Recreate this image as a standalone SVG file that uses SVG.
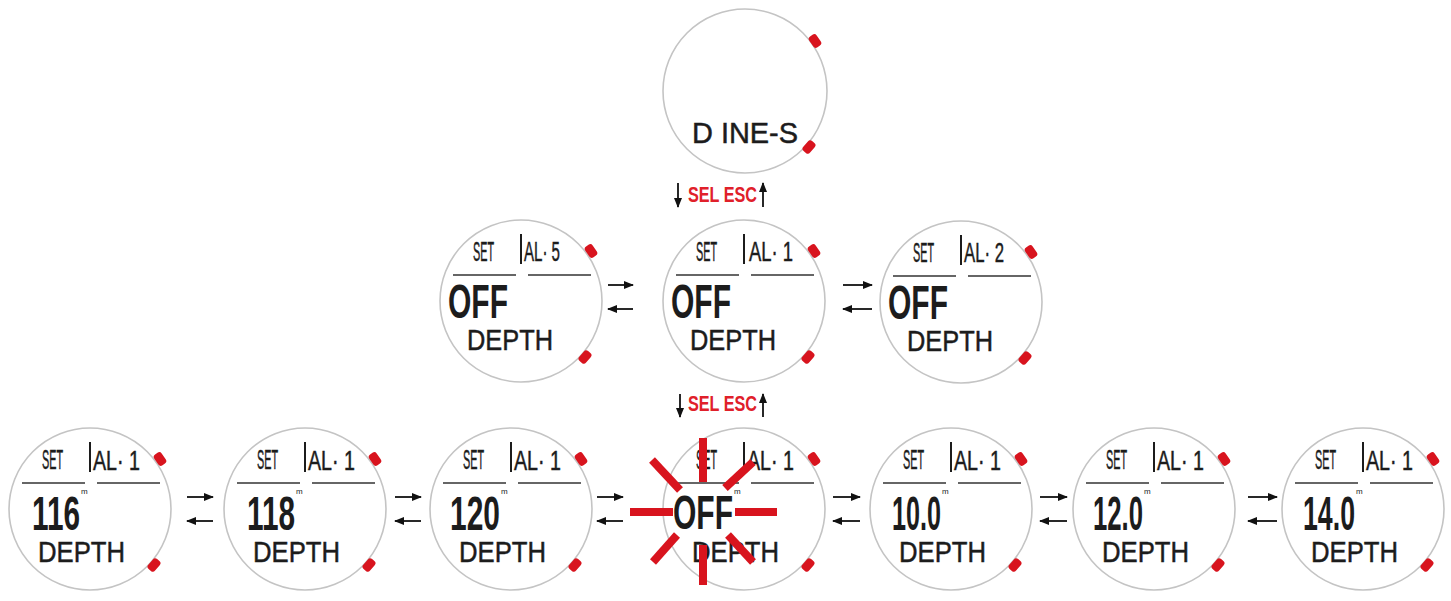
<svg xmlns="http://www.w3.org/2000/svg" width="1451" height="601" viewBox="0 0 1451 601">
<style>
.face{fill:#fff;stroke:#c4c4c4;stroke-width:1.6}
.btn{fill:#d8141e}
.lcd{font-family:"Liberation Sans",Arial,sans-serif;fill:#1c1c1c;stroke:#1c1c1c;stroke-width:0.5}
.s{font-size:28px}
.al{font-size:28px}
.num{font-size:49px;font-weight:bold;stroke-width:0}
.m{font-size:8px;stroke-width:0}
.dep{font-size:30px}
.sep{stroke:#333;stroke-width:1.6}
.bar{fill:#1c1c1c}
.ray{stroke:#d8141e;stroke-width:8;stroke-linecap:butt}
.arr{stroke:#111;stroke-width:1.8;fill:none;marker-end:url(#ah)}
.sel{font-family:"Liberation Sans",Arial,sans-serif;font-weight:bold;font-size:22px;fill:#e0202a}
</style>
<defs>
<marker id="ah" viewBox="0 0 10 8" refX="9" refY="4" markerWidth="11" markerHeight="8" markerUnits="userSpaceOnUse" orient="auto">
<path d="M0,0 L10,4 L0,8 z" fill="#111"/>
</marker>
<g id="btns">
<rect class="btn" x="-4.5" y="-6.5" width="9" height="13" rx="3" transform="translate(70,-50) rotate(-35)"/>
<rect class="btn" x="-4.5" y="-6.5" width="9" height="13" rx="3" transform="translate(64,56) rotate(41)"/>
</g>
<g id="hdr">
<line class="sep" x1="-68" y1="-26" x2="-5" y2="-26"/>
<line class="sep" x1="7" y1="-26" x2="70" y2="-26"/>
<rect class="bar" x="-1" y="-67" width="2" height="30"/>
<text class="lcd s" x="-48" y="-40" textLength="21" lengthAdjust="spacingAndGlyphs">SET</text>
</g>
</defs>

<g id="dive-s" transform="translate(745,91)">
<circle class="face" r="82"/>
<use href="#btns"/>
<text class="lcd dep" x="-53" y="52" textLength="106" lengthAdjust="spacingAndGlyphs">D INE-S</text>
</g>

<g id="al5" transform="translate(521,301)">
<circle class="face" r="81"/>
<use href="#btns"/>
<use href="#hdr"/>
<text class="lcd al" x="3" y="-40" textLength="36" lengthAdjust="spacingAndGlyphs">AL· 5</text>
<text class="lcd num" x="-73" y="17" textLength="60" lengthAdjust="spacingAndGlyphs">OFF</text>
<text class="lcd dep" x="-54" y="49" textLength="86" lengthAdjust="spacingAndGlyphs">DEPTH</text>
</g>

<g id="al1" transform="translate(744,301)">
<circle class="face" r="81"/>
<use href="#btns"/>
<use href="#hdr"/>
<text class="lcd al" x="5" y="-40" textLength="44" lengthAdjust="spacingAndGlyphs">AL· 1</text>
<text class="lcd num" x="-73" y="17" textLength="60" lengthAdjust="spacingAndGlyphs">OFF</text>
<text class="lcd dep" x="-54" y="49" textLength="86" lengthAdjust="spacingAndGlyphs">DEPTH</text>
</g>

<g id="al2" transform="translate(961,302)">
<circle class="face" r="81"/>
<use href="#btns"/>
<use href="#hdr"/>
<text class="lcd al" x="3" y="-40" textLength="40" lengthAdjust="spacingAndGlyphs">AL· 2</text>
<text class="lcd num" x="-73" y="17" textLength="60" lengthAdjust="spacingAndGlyphs">OFF</text>
<text class="lcd dep" x="-54" y="49" textLength="86" lengthAdjust="spacingAndGlyphs">DEPTH</text>
</g>

<g id="d116" transform="translate(90,509)">
<circle class="face" r="81"/>
<use href="#btns"/>
<use href="#hdr"/>
<text class="lcd al" x="3" y="-39" textLength="47" lengthAdjust="spacingAndGlyphs">AL· 1</text>
<text class="lcd num" x="-58" y="21" textLength="48" lengthAdjust="spacingAndGlyphs">116</text>
<text class="lcd m" x="-9" y="-15">m</text>
<text class="lcd dep" x="-52" y="53" textLength="87" lengthAdjust="spacingAndGlyphs">DEPTH</text>
</g>

<g id="d118" transform="translate(305,509)">
<circle class="face" r="81"/>
<use href="#btns"/>
<use href="#hdr"/>
<text class="lcd al" x="3" y="-39" textLength="47" lengthAdjust="spacingAndGlyphs">AL· 1</text>
<text class="lcd num" x="-58" y="21" textLength="48" lengthAdjust="spacingAndGlyphs">118</text>
<text class="lcd m" x="-9" y="-15">m</text>
<text class="lcd dep" x="-52" y="53" textLength="87" lengthAdjust="spacingAndGlyphs">DEPTH</text>
</g>

<g id="d120" transform="translate(511,509)">
<circle class="face" r="81"/>
<use href="#btns"/>
<use href="#hdr"/>
<text class="lcd al" x="3" y="-39" textLength="47" lengthAdjust="spacingAndGlyphs">AL· 1</text>
<text class="lcd num" x="-61" y="21" textLength="50" lengthAdjust="spacingAndGlyphs">120</text>
<text class="lcd m" x="-10" y="-15">m</text>
<text class="lcd dep" x="-52" y="53" textLength="87" lengthAdjust="spacingAndGlyphs">DEPTH</text>
</g>

<g id="doff" transform="translate(744,509)">
<circle class="face" r="81"/>
<use href="#btns"/>
<use href="#hdr"/>
<text class="lcd al" x="3" y="-39" textLength="47" lengthAdjust="spacingAndGlyphs">AL· 1</text>
<text class="lcd num" x="-71" y="20" textLength="60" lengthAdjust="spacingAndGlyphs">OFF</text>
<text class="lcd m" x="-10" y="-15">m</text>
<text class="lcd dep" x="-52" y="53" textLength="87" lengthAdjust="spacingAndGlyphs">DEPTH</text>
</g>

<g id="d100" transform="translate(951,509)">
<circle class="face" r="81"/>
<use href="#btns"/>
<use href="#hdr"/>
<text class="lcd al" x="3" y="-39" textLength="47" lengthAdjust="spacingAndGlyphs">AL· 1</text>
<text class="lcd num" x="-59" y="21" textLength="49" lengthAdjust="spacingAndGlyphs">10.0</text>
<text class="lcd m" x="-9" y="-15">m</text>
<text class="lcd dep" x="-52" y="53" textLength="87" lengthAdjust="spacingAndGlyphs">DEPTH</text>
</g>

<g id="d120b" transform="translate(1154,509)">
<circle class="face" r="81"/>
<use href="#btns"/>
<use href="#hdr"/>
<text class="lcd al" x="3" y="-39" textLength="47" lengthAdjust="spacingAndGlyphs">AL· 1</text>
<text class="lcd num" x="-61" y="21" textLength="50" lengthAdjust="spacingAndGlyphs">12.0</text>
<text class="lcd m" x="-10" y="-15">m</text>
<text class="lcd dep" x="-52" y="53" textLength="87" lengthAdjust="spacingAndGlyphs">DEPTH</text>
</g>

<g id="d140" transform="translate(1363,509)">
<circle class="face" r="81"/>
<use href="#btns"/>
<use href="#hdr"/>
<text class="lcd al" x="3" y="-39" textLength="47" lengthAdjust="spacingAndGlyphs">AL· 1</text>
<text class="lcd num" x="-60" y="21" textLength="52" lengthAdjust="spacingAndGlyphs">14.0</text>
<text class="lcd m" x="-7" y="-15">m</text>
<text class="lcd dep" x="-52" y="53" textLength="87" lengthAdjust="spacingAndGlyphs">DEPTH</text>
</g>

<g id="blink">
<line class="ray" x1="703" y1="438" x2="703" y2="482"/>
<line class="ray" x1="703" y1="545" x2="703" y2="585"/>
<line class="ray" x1="630" y1="512" x2="673" y2="512"/>
<line class="ray" x1="735" y1="512" x2="777" y2="512"/>
<line class="ray" x1="652" y1="460" x2="680" y2="490"/>
<line class="ray" x1="725" y1="488" x2="753" y2="462"/>
<line class="ray" x1="677" y1="535" x2="653" y2="562"/>
<line class="ray" x1="728" y1="535" x2="753" y2="562"/>
</g>

<g id="connectors">
<line class="arr" x1="678" y1="183" x2="678" y2="207"/>
<line class="arr" x1="763" y1="207" x2="763" y2="183"/>
<text class="sel" x="688" y="202" textLength="69" lengthAdjust="spacingAndGlyphs">SEL ESC</text>
<line class="arr" x1="680" y1="394" x2="680" y2="417"/>
<line class="arr" x1="763" y1="417" x2="763" y2="394"/>
<text class="sel" x="688" y="411" textLength="69" lengthAdjust="spacingAndGlyphs">SEL ESC</text>

<line class="arr" x1="608" y1="285" x2="633" y2="285"/>
<line class="arr" x1="633" y1="309" x2="608" y2="309"/>
<line class="arr" x1="843" y1="285" x2="872" y2="285"/>
<line class="arr" x1="872" y1="309" x2="843" y2="309"/>

<line class="arr" x1="187" y1="497" x2="213" y2="497"/>
<line class="arr" x1="213" y1="521" x2="187" y2="521"/>
<line class="arr" x1="395" y1="497" x2="421" y2="497"/>
<line class="arr" x1="421" y1="521" x2="395" y2="521"/>
<line class="arr" x1="597" y1="497" x2="623" y2="497"/>
<line class="arr" x1="623" y1="521" x2="597" y2="521"/>
<line class="arr" x1="833" y1="497" x2="860" y2="497"/>
<line class="arr" x1="860" y1="521" x2="833" y2="521"/>
<line class="arr" x1="1040" y1="497" x2="1067" y2="497"/>
<line class="arr" x1="1067" y1="521" x2="1040" y2="521"/>
<line class="arr" x1="1248" y1="497" x2="1277" y2="497"/>
<line class="arr" x1="1277" y1="521" x2="1248" y2="521"/>
</g>
</svg>
